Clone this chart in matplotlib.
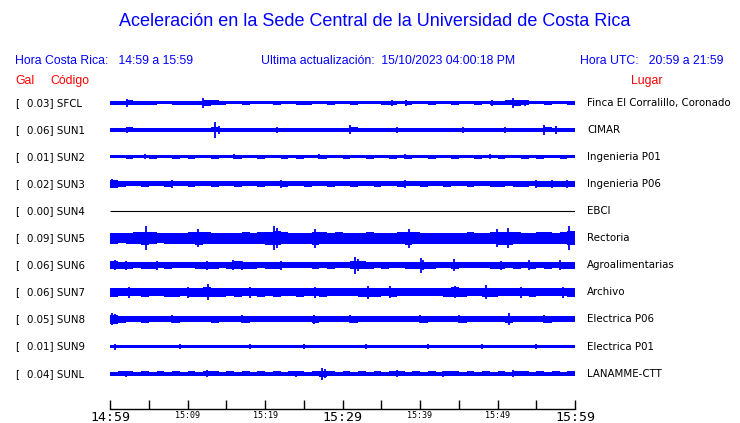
import matplotlib
matplotlib.use('Agg')
import matplotlib.pyplot as plt
import matplotlib.transforms as mtransforms
import numpy as np

# ---------------- data ----------------
codes = ['SFCL', 'SUN1', 'SUN2', 'SUN3', 'SUN4', 'SUN5', 'SUN6', 'SUN7', 'SUN8', 'SUN9', 'SUNL']
gal = [0.03, 0.06, 0.01, 0.02, 0.00, 0.09, 0.06, 0.06, 0.05, 0.01, 0.04]
places = ['Finca El Corralillo, Coronado', 'CIMAR', 'Ingenieria P01', 'Ingenieria P06', 'EBCI',
          'Rectoria', 'Agroalimentarias', 'Archivo', 'Electrica P06', 'Electrica P01', 'LANAMME-CTT']
tick_minutes = [0, 5, 10, 15, 20, 25, 30, 35, 40, 45, 50, 55, 60]
tick_labels = ['14:59', '', '15:09', '', '15:19', '', '15:29', '', '15:39', '', '15:49', '', '15:59']
big_ticks = ['14:59', '15:29', '15:59']

# per-minute half-width of the trace band (pixels)
env_SFCL = [2.0, 2.0, 2.5, 2.0, 2.0, 2.0, 1.8, 1.8, 2.0, 2.0,
            2.0, 2.0, 3.0, 2.5, 2.0, 1.8, 1.8, 2.0, 1.8, 1.8,
            1.8, 2.0, 1.8, 1.8, 2.0, 2.0, 1.8, 1.8, 2.0, 1.8,
            1.8, 2.0, 1.8, 1.8, 1.8, 2.0, 2.0, 1.8, 2.0, 1.8,
            1.8, 2.0, 1.8, 1.8, 2.0, 1.8, 1.8, 2.0, 1.8, 2.0,
            2.0, 2.2, 3.0, 2.2, 1.8, 1.8, 2.0, 1.8, 1.8, 2.0]
env_SUN1 = [2.0, 2.0, 2.5, 2.0, 2.0, 2.0, 2.0, 2.0, 2.0, 2.0,
            2.0, 2.0, 2.0, 2.5, 2.0, 2.0, 2.0, 2.0, 2.0, 2.0,
            2.0, 2.0, 2.0, 2.0, 2.0, 2.0, 2.0, 2.0, 2.0, 2.0,
            2.0, 2.5, 2.0, 2.0, 2.0, 2.0, 2.0, 2.0, 2.0, 2.0,
            2.0, 2.0, 2.0, 2.0, 2.0, 2.0, 2.0, 2.0, 2.0, 2.0,
            2.0, 2.0, 2.0, 2.0, 2.0, 2.0, 2.5, 2.0, 2.0, 2.0]
env_SUN2 = [1.5, 1.5, 2.0, 1.5, 1.5, 2.0, 1.5, 1.5, 2.0, 1.5,
            2.0, 1.5, 1.5, 2.0, 1.5, 1.5, 2.0, 1.5, 1.5, 2.0,
            1.5, 1.5, 2.0, 1.5, 2.0, 1.5, 1.5, 2.0, 1.5, 1.5,
            2.0, 1.5, 1.5, 2.0, 1.5, 1.5, 2.0, 1.5, 2.0, 1.5,
            1.5, 2.0, 1.5, 1.5, 2.0, 1.5, 1.5, 2.0, 1.5, 1.5,
            2.0, 1.5, 1.5, 2.0, 1.5, 2.0, 1.5, 1.5, 2.0, 1.5]
env_SUN3 = [4.0, 3.0, 2.5, 2.5, 3.0, 2.5, 2.5, 3.0, 2.5, 2.5,
            3.0, 2.5, 2.5, 3.0, 2.5, 2.5, 3.0, 2.5, 2.5, 3.0,
            2.5, 2.5, 3.0, 2.5, 2.5, 3.0, 2.5, 2.5, 3.0, 2.5,
            2.5, 3.0, 2.5, 2.5, 3.0, 2.5, 2.5, 3.0, 2.5, 2.5,
            3.0, 2.5, 2.5, 3.0, 2.5, 2.5, 3.0, 2.5, 2.5, 3.0,
            3.0, 2.5, 3.0, 3.0, 2.5, 3.0, 3.0, 3.0, 3.0, 3.0]
env_SUN4 = [0.0] * 60
env_SUN5 = [5.5, 5.0, 5.5, 6.0, 6.5, 6.0, 5.0, 5.5, 5.5, 5.5,
            6.0, 6.5, 6.0, 5.5, 5.5, 5.5, 5.5, 6.0, 5.5, 6.0,
            6.5, 7.0, 6.0, 5.5, 5.5, 5.5, 6.5, 6.0, 5.5, 6.0,
            5.5, 5.5, 5.5, 6.0, 5.5, 5.5, 5.5, 6.0, 6.5, 6.0,
            5.5, 5.5, 5.5, 5.5, 5.5, 5.5, 6.0, 5.5, 5.5, 6.0,
            6.5, 6.5, 6.0, 5.5, 5.5, 6.0, 6.0, 5.5, 6.0, 7.0]
env_SUN6 = [4.0, 3.5, 3.5, 3.0, 3.5, 3.5, 3.0, 3.5, 3.0, 3.0,
            3.0, 3.5, 3.5, 3.5, 3.0, 3.5, 4.0, 3.5, 3.5, 3.0,
            3.5, 3.5, 3.0, 3.0, 3.0, 3.0, 3.5, 3.0, 3.5, 3.0,
            3.0, 4.0, 4.0, 3.5, 3.0, 3.5, 3.0, 3.0, 3.5, 3.5,
            3.5, 3.5, 3.0, 3.0, 3.5, 3.0, 3.0, 3.0, 3.0, 3.5,
            3.5, 3.0, 3.5, 3.0, 3.5, 3.0, 3.5, 3.0, 3.5, 3.5]
env_SUN7 = [4.5, 4.0, 4.0, 4.0, 4.5, 4.0, 4.0, 4.5, 4.5, 4.0,
            4.5, 4.5, 5.0, 4.5, 4.5, 4.0, 4.5, 4.0, 4.0, 4.5,
            4.0, 4.5, 4.0, 4.0, 4.5, 4.0, 4.0, 4.5, 4.0, 4.0,
            4.0, 4.0, 4.5, 4.5, 4.5, 4.0, 4.5, 4.0, 4.0, 4.0,
            4.0, 4.0, 4.0, 4.5, 5.0, 4.5, 4.0, 4.0, 4.5, 4.5,
            4.0, 4.0, 4.0, 4.0, 4.5, 4.0, 4.0, 4.0, 4.0, 4.5]
env_SUN8 = [4.5, 3.5, 3.0, 3.0, 3.5, 3.0, 3.0, 3.0, 3.5, 3.0,
            3.0, 3.0, 3.0, 3.5, 3.0, 3.0, 3.0, 3.5, 3.0, 3.0,
            3.0, 3.0, 3.0, 3.0, 3.0, 3.0, 3.5, 3.0, 3.0, 3.0,
            3.0, 3.5, 3.0, 3.0, 3.0, 3.0, 3.0, 3.0, 3.0, 3.0,
            3.5, 3.0, 3.0, 3.0, 3.0, 3.5, 3.0, 3.0, 3.0, 3.0,
            3.0, 3.5, 3.0, 3.0, 3.0, 3.0, 3.5, 3.0, 3.0, 3.0]
env_SUN9 = [1.5, 1.5, 1.4, 1.4, 1.4, 1.4, 1.4, 1.4, 1.4, 1.6,
            1.4, 1.4, 1.4, 1.4, 1.4, 1.4, 1.4, 1.4, 1.6, 1.4,
            1.4, 1.4, 1.4, 1.4, 1.4, 1.6, 1.4, 1.4, 1.4, 1.4,
            1.4, 1.4, 1.4, 1.6, 1.4, 1.4, 1.4, 1.4, 1.4, 1.4,
            1.4, 1.6, 1.4, 1.4, 1.4, 1.4, 1.4, 1.4, 1.6, 1.4,
            1.4, 1.4, 1.4, 1.4, 1.4, 1.6, 1.4, 1.4, 1.4, 1.4]
env_SUNL = [2.0, 2.2, 2.5, 2.0, 2.2, 2.0, 2.2, 2.0, 2.2, 2.0,
            2.2, 2.0, 2.5, 2.2, 2.0, 2.2, 2.0, 2.2, 2.0, 2.2,
            2.0, 2.2, 2.0, 2.2, 2.5, 2.0, 2.2, 3.0, 2.5, 2.0,
            2.2, 2.0, 2.2, 2.0, 2.2, 2.0, 2.2, 2.5, 2.0, 2.2,
            2.0, 2.2, 2.0, 2.5, 2.2, 2.0, 2.2, 2.0, 2.2, 2.0,
            2.2, 2.0, 2.5, 2.2, 2.0, 2.2, 2.0, 2.2, 2.0, 2.2]
envelopes = [env_SFCL, env_SUN1, env_SUN2, env_SUN3, env_SUN4, env_SUN5,
             env_SUN6, env_SUN7, env_SUN8, env_SUN9, env_SUNL]

# prominent spikes: (minute, half-height in pixels)
spikes = [
    [(2.2, 4), (12.0, 5), (12.6, 3), (36.4, 3), (38.2, 3), (49.3, 3), (52.0, 5), (53.5, 3)],
    [(2.2, 3), (13.5, 8), (14.0, 4), (21.5, 3), (31.0, 4.5), (37.0, 3), (45.5, 3), (51.0, 3), (56.0, 5), (57.6, 4)],
    [(4.5, 2.5), (16.0, 2.5), (27.0, 2.5), (38.0, 2.5), (49.0, 2.5)],
    [(0.3, 4.5), (8.0, 4), (22.0, 4), (38.0, 4), (55.0, 4), (57.0, 4), (59.0, 4)],
    [],
    [(4.6, 12), (11.3, 9), (21.1, 12), (21.5, 10), (26.5, 9.5), (38.6, 9.5), (49.9, 9), (51.4, 10), (59.2, 12)],
    [(0.6, 5), (2.0, 4.5), (6.0, 4.5), (12.5, 4.5), (15.9, 5), (17.0, 4.5), (22.0, 4.5), (31.6, 8.5),
     (32.0, 6), (40.1, 7.5), (40.4, 5), (44.4, 6), (50.5, 4.5), (54.0, 5), (58.0, 5)],
    [(2.5, 5.5), (10.0, 5.5), (12.6, 8), (18.0, 5.5), (26.5, 5.5), (33.3, 6.5), (36.1, 6), (44.5, 6),
     (48.5, 7), (53.0, 5.5), (58.5, 5.5)],
    [(0.2, 6), (0.6, 5), (8.0, 4), (17.0, 4), (26.3, 4.5), (31.0, 4), (40.0, 4), (45.0, 4), (51.5, 6), (56.0, 4)],
    [(0.7, 3), (9.0, 2.2), (18.0, 2.2), (25.0, 2.2), (33.0, 2.2), (41.0, 2.2), (48.0, 2.2), (55.0, 2.2)],
    [(2.0, 3), (12.5, 3.5), (24.0, 3), (27.4, 6), (27.8, 4.5), (37.0, 3.5), (43.0, 3), (52.0, 3.5)],
]

# ---------------- drawing ----------------
W, H = 740, 423
BLUE = '#0000ff'
RED = '#ff0000'
ROW = 27.1   # pixels between traces
FIRST = 102.6  # pixel row of the first trace

fig = plt.figure(figsize=(W / 100, H / 100), dpi=100)
ax = fig.add_axes([110 / W, 14 / H, 465 / W, 321 / H])
ax.set_xlim(0, 60)
ax.set_ylim((409 - FIRST) / ROW, (88 - FIRST) / ROW)

minutes = np.arange(61)
for i, (env, spk) in enumerate(zip(envelopes, spikes)):
    e = np.array(env + [env[-1]]) / ROW
    if np.all(e == 0):
        ax.hlines(i, 0, 60, color='black', lw=0.8)
        continue
    ax.fill_between(minutes, i - e, i + e, step='post', color=BLUE, lw=0)
    for m, h in spk:
        ax.vlines(m, i - h / ROW, i + h / ROW, color=BLUE, lw=1.3)

for s in ['left', 'right', 'top']:
    ax.spines[s].set_visible(False)
ax.spines['bottom'].set_linewidth(1.0)
ax.set_yticks([])
ax.set_xticks(tick_minutes)
ax.set_xticklabels(tick_labels)
ax.tick_params(axis='x', direction='in', length=6.5, width=1.0, pad=1.5)
for lab in ax.get_xticklabels():
    lab.set_fontfamily('DejaVu Sans Mono')
    if lab.get_text() in big_ticks:
        lab.set_fontsize(9.5)
    else:
        lab.set_fontsize(6)

trans = mtransforms.blended_transform_factory(fig.transFigure, ax.transData)
for i, (c, g, p) in enumerate(zip(codes, gal, places)):
    ax.text(15 / W, i, '[', transform=trans, fontsize=7.4, va='center', ha='left', family='DejaVu Sans')
    ax.text(27 / W, i, f'{g:.2f}] {c}', transform=trans, fontsize=7.4, va='center', ha='left',
            family='DejaVu Sans')
    ax.text(587 / W, i, p, transform=trans, fontsize=7.4, va='center', ha='left', family='DejaVu Sans')

hfont = 'Liberation Sans'
fig.text(375 / W, 1 - 22 / H, 'Aceleración en la Sede Central de la Universidad de Costa Rica',
         ha='center', va='center', color=BLUE, fontsize=13, family=hfont)
fig.text(15 / W, 1 - 61 / H, 'Hora Costa Rica:   14:59 a 15:59', ha='left', va='center',
         color=BLUE, fontsize=8.8, family=hfont)
fig.text(261 / W, 1 - 61 / H, 'Ultima actualización:  15/10/2023 04:00:18 PM', ha='left', va='center',
         color=BLUE, fontsize=8.8, family=hfont)
fig.text(724 / W, 1 - 61 / H, 'Hora UTC:   20:59 a 21:59', ha='right', va='center',
         color=BLUE, fontsize=8.8, family=hfont)
fig.text(15 / W, 1 - 81 / H, 'Gal', ha='left', va='center', color=RED, fontsize=8.8, family=hfont)
fig.text(50 / W, 1 - 81 / H, 'Código', ha='left', va='center', color=RED, fontsize=8.8, family=hfont)
fig.text(631 / W, 1 - 81 / H, 'Lugar', ha='left', va='center', color=RED, fontsize=8.8, family=hfont)

fig.savefig('out.png', dpi=100, facecolor='white')
